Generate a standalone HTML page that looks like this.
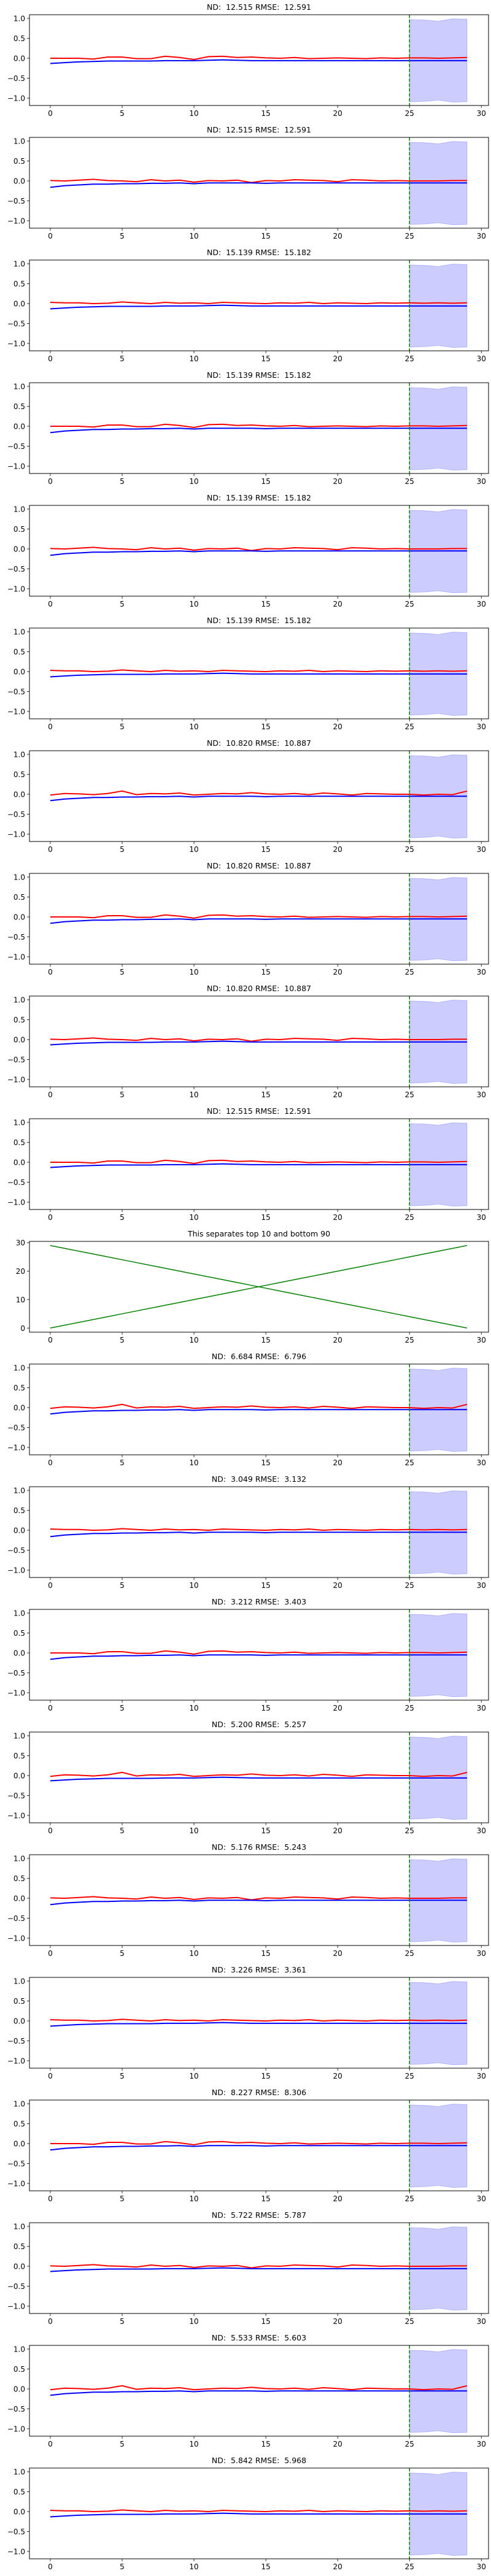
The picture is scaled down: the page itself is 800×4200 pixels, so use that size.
<!DOCTYPE html>
<html><head><meta charset="utf-8"><style>
html,body{margin:0;padding:0;background:#fff;}
svg{display:block;font-family:"DejaVu Sans","Liberation Sans",sans-serif;}
text{white-space:pre;}
</style></head><body>
<svg id="fig" width="800" height="4200" xmlns="http://www.w3.org/2000/svg"></svg>
<script>
const titles=["ND:  12.515 RMSE:  12.591","ND:  12.515 RMSE:  12.591","ND:  15.139 RMSE:  15.182","ND:  15.139 RMSE:  15.182","ND:  15.139 RMSE:  15.182","ND:  15.139 RMSE:  15.182","ND:  10.820 RMSE:  10.887","ND:  10.820 RMSE:  10.887","ND:  10.820 RMSE:  10.887","ND:  12.515 RMSE:  12.591","This separates top 10 and bottom 90","ND:  6.684 RMSE:  6.796","ND:  3.049 RMSE:  3.132","ND:  3.212 RMSE:  3.403","ND:  5.200 RMSE:  5.257","ND:  5.176 RMSE:  5.243","ND:  3.226 RMSE:  3.361","ND:  8.227 RMSE:  8.306","ND:  5.722 RMSE:  5.787","ND:  5.533 RMSE:  5.603","ND:  5.842 RMSE:  5.968"];
const redA=[0.0,0.0,0.0,-0.02,0.03,0.03,-0.01,-0.01,0.05,0.02,-0.03,0.04,0.05,0.02,0.03,0.01,0.0,0.02,-0.01,0.0,0.01,0.0,-0.01,0.01,0.0,0.01,0.01,0.0,0.01,0.02];
const redB=[0.03,0.02,0.02,0.0,0.01,0.04,0.02,0.0,0.03,0.01,0.02,0.0,0.03,0.02,0.01,0.0,0.02,0.01,0.03,0.0,0.02,0.01,0.0,0.02,0.01,0.02,0.01,0.02,0.01,0.02];
const redC=[0.01,0.0,0.02,0.04,0.01,0.0,-0.02,0.03,0.0,0.02,-0.03,0.01,0.0,0.02,-0.04,0.01,0.0,0.03,0.02,0.01,-0.02,0.03,0.02,0.0,0.01,0.0,0.0,0.0,0.01,0.01];
const redD=[-0.02,0.02,0.01,-0.01,0.02,0.08,-0.01,0.02,0.01,0.03,-0.02,0.0,0.02,0.01,0.04,0.01,0.0,0.02,-0.01,0.03,0.01,-0.02,0.02,0.01,0.0,0.0,-0.02,0.0,-0.01,0.08];
const blueA=[-0.13,-0.11,-0.09,-0.08,-0.07,-0.07,-0.07,-0.07,-0.06,-0.06,-0.06,-0.05,-0.04,-0.05,-0.06,-0.06,-0.06,-0.06,-0.06,-0.06,-0.06,-0.06,-0.06,-0.06,-0.06,-0.06,-0.06,-0.06,-0.06,-0.06];
const blueB=[-0.16,-0.12,-0.1,-0.08,-0.08,-0.07,-0.07,-0.06,-0.06,-0.05,-0.07,-0.05,-0.05,-0.05,-0.05,-0.06,-0.05,-0.05,-0.05,-0.05,-0.05,-0.05,-0.05,-0.05,-0.05,-0.05,-0.05,-0.05,-0.05,-0.05];
const fillUpper=[0.97,0.96,0.93,0.99,0.98];
const fillLower=[-1.09,-1.08,-1.05,-1.1,-1.09];
const greenUp=[0,1,2,3,4,5,6,7,8,9,10,11,12,13,14,15,16,17,18,19,20,21,22,23,24,25,26,27,28,29];
const greenDown=[29,28,27,26,25,24,23,22,21,20,19,18,17,16,15,14,13,12,11,10,9,8,7,6,5,4,3,2,1,0];
const xTicks=[0,5,10,15,20,25,30];
const yTicks=[1.0,0.5,0.0,-0.5,-1.0];
const yTicksG=[30,20,10,0];
const redMap=[redA,redC,redB,redA,redC,redB,redD,redA,redC,redA,null,redD,redB,redA,redD,redC,redB,redA,redC,redD,redB];
const blueMap=[blueA,blueB,blueA,blueB,blueB,blueA,blueB,blueB,blueA,blueA,null,blueB,blueB,blueB,blueA,blueB,blueA,blueB,blueA,blueB,blueA];

const NS="http://www.w3.org/2000/svg";
const svg=document.getElementById('fig');
function mk(tag,attrs,parent){const e=document.createElementNS(NS,tag);for(const k in attrs)e.setAttribute(k,attrs[k]);(parent||svg).appendChild(e);return e;}
const L=48,R=796;
function sx(v){return L+(v+1.45)/31.95*(R-L);}
for(let i=0;i<21;i++){
  const oy=i*200;
  const top=oy+24,bot=oy+172;
  const g=mk('g',{});
  
  
  const t=mk('text',{x:(L+R)/2,y:oy+16,'text-anchor':'middle','font-size':'12.5'},g);
  t.textContent=titles[i];
  
  
  let sy;
  if(i===10){
    sy=v=>bot-(v+1.45)/31.9*(bot-top);
  } else {
    sy=v=>oy+95-v*65;
  }
  if(i!==10){
    let pts=[];
    for(let k=0;k<fillUpper.length;k++)pts.push(sx(25+k)+','+sy(fillUpper[k]));
    for(let k=fillLower.length-1;k>=0;k--)pts.push(sx(25+k)+','+sy(fillLower[k]));
    const f=mk('polygon',{points:pts.join(' '),fill:'#0000ff','fill-opacity':'0.2',stroke:'#0000ff','stroke-opacity':'0.2'},g);
    
    
    const red=redMap[i],blue=blueMap[i];
    const rl=mk('polyline',{points:red.map((v,k)=>sx(k)+','+sy(v)).join(' '),fill:'none',stroke:'#ff0000','stroke-width':'2'},g);
    
    
    const bl=mk('polyline',{points:blue.map((v,k)=>sx(k)+','+sy(v)).join(' '),fill:'none',stroke:'#0000ff','stroke-width':'2'},g);
    
    
    const vl=mk('line',{x1:sx(25),x2:sx(25),y1:top,y2:bot,stroke:'#008000','stroke-width':'1.5','stroke-dasharray':'5.5,2.5'},g);
    
    
  } else {
    const a=mk('polyline',{points:greenUp.map((v,k)=>sx(k)+','+sy(v)).join(' '),fill:'none',stroke:'#008000','stroke-width':'1.5'},g);
    
    
    const b=mk('polyline',{points:greenDown.map((v,k)=>sx(k)+','+sy(v)).join(' '),fill:'none',stroke:'#008000','stroke-width':'1.5'},g);
    
    
  }
  const fr=mk('rect',{x:L,y:top,width:R-L,height:bot-top,fill:'none',stroke:'#000','stroke-width':'1'},g);
  
  
  xTicks.forEach(v=>{
    const x=sx(v);
    mk('line',{x1:x,x2:x,y1:bot,y2:bot+4,stroke:'#000','stroke-width':'0.8'},g);
    const tx=mk('text',{x:x,y:bot+17,'text-anchor':'middle','font-size':'12'},g);
    tx.textContent=String(v);
    
    
  });
  (i===10?yTicksG:yTicks).forEach(v=>{
    const y=sy(v);
    mk('line',{x1:L-4,x2:L,y1:y,y2:y,stroke:'#000','stroke-width':'0.8'},g);
    const ty=mk('text',{x:L-7,y:y+4.5,'text-anchor':'end','font-size':'12'},g);
    ty.textContent=i===10?String(v):(v<0?'\u2212'+Math.abs(v).toFixed(1):v.toFixed(1));
    
    
  });
}
</script>
</body></html>
